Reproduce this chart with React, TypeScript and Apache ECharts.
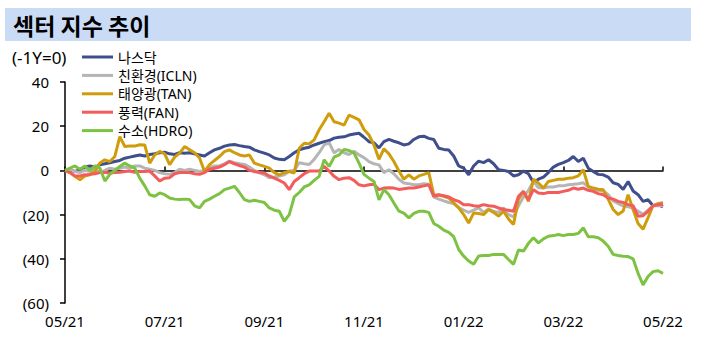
import React, { useEffect, useRef } from "react";
import * as echarts from "echarts";

const xLabels = ["05/21", "07/21", "09/21", "11/21", "01/22", "03/22", "05/22"];
const yTicks = [-60, -40, -20, 0, 20, 40];
const seriesNames = ["나스닥", "친환경(ICLN)", "태양광(TAN)", "풍력(FAN)", "수소(HDRO)"];
const seriesColors = ["#3f4f8b", "#b5b5b5", "#cf9d0c", "#f45b5b", "#7dc242"];

const nasdaq = [
  0, 0.5, -0.5, 0.5, 1.5, 2, 1.5, 2.5, 3, 3.5,
  4, 4.5, 5.5, 6, 6.5, 7, 6.5, 7.2, 7.5, 8,
  8.2, 7.5, 7.2, 8, 7.8, 8, 7.5, 7, 6.5, 8,
  9.3, 10, 11, 11.5, 11.7, 11.2, 10.8, 10.5, 9.3, 8.5,
  7.8, 7, 5.6, 5, 4.8, 6.3, 8, 9.3, 10, 10.5,
  11.5, 12.3, 13, 13.5, 14.6, 15, 15.2, 16, 16.5, 16.8,
  15, 13, 12.5, 10.2, 13, 14, 13.2, 12.5, 11.5, 12,
  14, 15.2, 15.5, 14.5, 14, 10, 9.5, 9.2, 6.5, 2,
  1, -2, 2, 4.2, 3.5, 4.8, 3, 0.3, 0, -0.5,
  -2.5, -2, -0.3, -1.5, -5.5, -4, -3, -1, 1.5, 2.7,
  3.5, 4.5, 6.3, 4, 5.5, 1, -0.5, -1.8, -2, -3,
  -5.6, -6.3, -8.6, -5, -9.3, -11, -14, -13.3, -16, -15.5,
  -16.5,
];
const icln = [
  0, 0.5, -0.5, -1, 0, -0.5, 0.5, -1, 0, 1,
  0.5, 1, 1.5, 1, 2, 2, 1, 0.5, 0, -1,
  -1.5, -1.8, -1, 0.5, 0, 0.5, 0, -0.5, 0, 1.2,
  2, 2, 3, 4.2, 3.5, 3, 2.7, 1.5, 0, -1,
  -2, -3.3, -3, -2.5, -2, -0.3, 0, 3.5, 3, 2.7,
  5, 8, 11.5, 12.5, 8, 9.5, 8, 7.2, 8.7, 7,
  5.8, 4, 3, 2.5, -1, 0.3, -1.5, -4, -5.7, -6,
  -6.5, -6.5, -6, -6.3, -12, -13, -13.8, -14.5, -15, -16.8,
  -18, -19, -18, -17, -19, -17.5, -18.5, -19, -17, -20,
  -21, -16, -12, -9, -5, -7.8, -8, -7.5, -7.5, -7,
  -7, -6.5, -6.3, -6, -5.6, -7.5, -8.6, -9, -9.3, -11,
  -13.8, -15, -16, -16.5, -17, -18.5, -19.9, -18, -16, -16,
  -16,
];
const tan = [
  0, -1, -2.7, -4.2, -2.5, -2, -0.5, 3.3, 4.8, 4,
  6.3, 15.3, 10.8, 11, 11, 11.6, 11.5, 3.3, 7, 8.6,
  7.5, 2.6, 6, 7.8, 10.8, 9.3, 8, 5.6, -0.5, 2.6,
  4.5, 6.3, 8.5, 9.3, 8, 7, 6.5, 7, 3.3, 2.5,
  1.8, 1, -1, -2, -1, -0.5, -1.2, 10, 12.3, 12,
  13.8, 18.4, 22, 25.9, 22, 21.4, 20.5, 25, 24, 22.9,
  18.5, 16, 11.5, 5, 9.8, 7.5, 4, -0.3, -4, -2,
  -4, -2.5, -1.8, -1, -11, -11.2, -11.7, -12.5, -14.7, -17,
  -20, -23.8, -19.3, -19.5, -20, -17.7, -19, -20.7, -18.5, -22,
  -24.5, -13, -9.5, -14, -4, -5.7, -8, -5, -4.5, -4,
  -4, -3.5, -3.3, -2.5, 0.3, -7.2, -8, -8.5, -8.7, -13,
  -17.7, -20, -18.4, -11, -17.7, -24, -26.6, -21.4, -16, -15,
  -14.6,
];
const fan = [
  0, -1, -2.5, -2.5, -2, -1.8, -1.5, -1, -1, -1.2,
  -1, -0.8, -0.5, -0.3, -0.8, -0.5, -0.5, -0.3, -2.5, -4.8,
  -3.5, -3.3, -1.5, -1, -1, -1, -1.5, -1.8, -1, 0.5,
  1, 1.5, 2.6, 4, 3, 2.2, 1.5, 0, -0.5, -1,
  -1.2, -2.5, -3.5, -4.5, -5.7, -8.7, -5, -3.3, -1.5, -0.3,
  -0.3, -0.3, 1.8, -0.3, -2.7, -4.2, -3.5, -3.3, -4.5, -6.5,
  -7, -6.5, -6.3, -8.7, -8, -7.8, -8, -8.6, -8.3, -8,
  -8, -7.5, -7, -6.5, -11.7, -11, -11.5, -12, -13.3, -14,
  -15.5, -15.5, -16, -16.2, -15.5, -16, -16.2, -17, -17.7, -18,
  -18.5, -11.7, -9.5, -13.3, -8.7, -10.2, -10.5, -10, -10, -10,
  -9.5, -9, -8, -8.5, -8, -9, -9.5, -10.5, -11, -12.5,
  -13, -14, -14.5, -15.5, -16, -20.7, -20.5, -18.5, -16, -15.5,
  -15.3,
];
const hdro = [
  0, 1, 2, 0.5, 2, 0, 2, 1, -4.8, -1.8,
  0, 1.8, 3.3, 2, 1, -3.5, -7, -11, -11.7, -10.2,
  -11, -12.5, -13, -13.2, -13, -13.2, -16, -17, -14, -13,
  -11.7, -10.5, -8.7, -8, -7.2, -10, -13.2, -14, -13.5, -14,
  -14.5, -17, -18, -18.5, -23, -20, -12, -10, -7.5, -6.5,
  -4.5, -2.7, 4.8, 1.8, 6, 7, 9.5, 9, 7.8, 3.3,
  -1.8, -3.5, -5, -13.3, -8.7, -11, -14.8, -18.4, -19.3, -21.5,
  -19.5, -18.5, -18.5, -19, -24, -25.3, -27, -28, -30, -35.8,
  -38.8, -41, -42.5, -38.7, -38.5, -38.5, -38, -38, -38, -40.3,
  -42.5, -36, -36.5, -33, -30.5, -32.8, -31, -29.8, -29.5, -29,
  -29.5, -29, -29, -28.5, -26, -30, -30, -30.5, -32, -34.3,
  -38, -38.5, -38.8, -39, -40, -46.6, -51.8, -48, -45.8, -45.4,
  -46.6,
];
const seriesValues = [nasdaq, icln, tan, fan, hdro];

const FONT = "'Noto Sans', 'Noto Sans CJK KR', sans-serif";

export default function App() {
  const ref = useRef<HTMLDivElement>(null);
  useEffect(() => {
    if (!ref.current) return;
    const chart = echarts.init(ref.current, undefined, { renderer: "svg" });
    const lastIdx = nasdaq.length - 1;
    const step = lastIdx / (xLabels.length - 1);
    chart.setOption({
      animation: false,
      backgroundColor: "#ffffff",
      textStyle: { fontFamily: FONT },
      grid: { left: 65, right: 44, top: 82, bottom: 54, containLabel: false },
      graphic: [
        {
          type: "rect",
          shape: { x: 5, y: 8, width: 686, height: 33 },
          style: { fill: "#c9dbf5" },
          silent: true,
        },
        {
          type: "text",
          x: 13,
          y: 25,
          style: {
            text: "섹터 지수 추이",
            font: "bold 23px 'Noto Sans CJK KR', sans-serif",
            fill: "#000",
            textVerticalAlign: "middle",
          },
        },
        {
          type: "text",
          x: 12,
          y: 57,
          style: {
            text: "(-1Y=0)",
            font: "17px " + FONT,
            fill: "#000",
            textVerticalAlign: "middle",
          },
        },
      ],
      legend: {
        orient: "vertical",
        left: 82,
        top: 50,
        padding: 0,
        itemWidth: 31,
        itemHeight: 3,
        itemGap: 4.4,
        icon: "rect",
        data: seriesNames,
        textStyle: { fontSize: 14, lineHeight: 14, color: "#000", fontFamily: FONT },
      },
      xAxis: [
        {
          type: "value",
          min: 0,
          max: lastIdx,
          interval: step,
          position: "bottom",
          axisLine: { show: true, onZero: true, lineStyle: { color: "#000", width: 1.5 } },
          axisTick: { show: true, inside: true, length: 4, lineStyle: { color: "#000", width: 1.5 } },
          axisLabel: { show: false },
          splitLine: { show: false },
        },
        {
          type: "value",
          min: 0,
          max: lastIdx,
          interval: step,
          position: "bottom",
          axisLine: { show: false, onZero: false },
          axisTick: { show: false },
          axisLabel: {
            show: true,
            margin: 10,
            fontSize: 15,
            color: "#000",
            fontFamily: FONT,
            formatter: (v: number) => xLabels[Math.round(v / step)] ?? "",
          },
          splitLine: { show: false },
        },
      ],
      yAxis: {
        type: "value",
        min: yTicks[0],
        max: yTicks[yTicks.length - 1],
        interval: 20,
        axisLine: { show: true, lineStyle: { color: "#000", width: 1.5 } },
        axisTick: { show: true, inside: false, length: 5, lineStyle: { color: "#000", width: 1.5 } },
        axisLabel: {
          margin: 16,
          fontSize: 15,
          color: "#000",
          fontFamily: FONT,
          formatter: (v: number) => (v < 0 ? `(${-v})` : `${v}`),
        },
        splitLine: { show: false },
      },
      series: seriesNames.map((name, k) => ({
        name,
        type: "line",
        xAxisIndex: 0,
        symbol: "none",
        showSymbol: false,
        color: seriesColors[k],
        lineStyle: { width: 3, color: seriesColors[k] },
        data: seriesValues[k].map((v, i) => [i, v]),
      })),
    });
    return () => chart.dispose();
  }, []);
  return (
    <div
      ref={ref}
      style={{ position: "absolute", left: 0, top: 0, width: 707, height: 357 }}
    />
  );
}
